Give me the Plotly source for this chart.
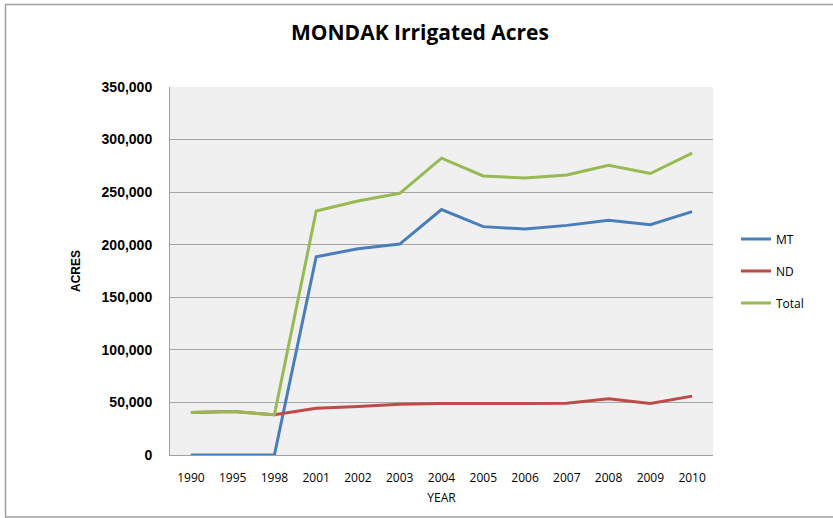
import plotly.graph_objects as go

years = ["1990", "1995", "1998", "2001", "2002", "2003", "2004", "2005", "2006", "2007", "2008", "2009", "2010"]
mt = [0, 0, 0, 188500, 196200, 200600, 233400, 217200, 214900, 218400, 223200, 219000, 231500]
nd = [40400, 41300, 38400, 44500, 46100, 48300, 48900, 48700, 48900, 49200, 53400, 48900, 56000]
total = [40400, 41300, 38400, 232000, 241600, 248900, 282300, 265400, 263500, 266400, 275600, 267700, 287100]

fig = go.Figure()
fig.add_trace(go.Scatter(x=years, y=mt, name="MT", mode="lines", line=dict(color="#4A7EBB", width=3),
                         legend="legend", showlegend=True))
fig.add_trace(go.Scatter(x=years, y=nd, name="ND", mode="lines", line=dict(color="#BE4B48", width=3),
                         legend="legend2", showlegend=True))
fig.add_trace(go.Scatter(x=years, y=total, name="Total", mode="lines", line=dict(color="#98B954", width=3),
                         legend="legend3", showlegend=True))

L, R, T, B = 170, 120, 87, 63
W, H = 833, 518
pw, ph = W - L - R, H - T - B

def px(x):
    return (x - L) / pw

def py(y):
    return (H - B - y) / ph

leg_common = dict(xanchor="left", yanchor="middle", font=dict(family="Open Sans", size=12, color="black"),
                  bgcolor="rgba(0,0,0,0)", itemwidth=30, visible=True)

fig.update_layout(
    width=W, height=H, showlegend=True,
    paper_bgcolor="white", plot_bgcolor="#F0F0F0",
    margin=dict(l=L, r=R, t=T, b=B),
    title=dict(text="<b>MONDAK Irrigated Acres</b>", xref="container", x=420 / W, xanchor="center",
               yref="container", y=1 - 33 / H, yanchor="middle",
               font=dict(family="Open Sans", size=21, color="black")),
    xaxis=dict(type="category", range=[-0.5, 12.5], showgrid=False, showline=True, linecolor="#A0A0A0",
               tickfont=dict(family="Open Sans", size=12, color="black"), ticks="", ticklabelstandoff=12,
               title=dict(text="YEAR", font=dict(family="Open Sans", size=12, color="black"), standoff=8)),
    yaxis=dict(range=[0, 350000], dtick=50000, tickformat=",d", showgrid=True, gridcolor="#A6A6A6", gridwidth=1,
               showline=True, linecolor="#A0A0A0", zeroline=False, ticks="", ticklabelstandoff=14,
               tickfont=dict(family="Arial", size=14, color="black", weight="bold"),
               title=dict(text="<b>ACRES</b>", font=dict(family="Arial", size=12, color="black"), standoff=18)),
    legend=dict(x=px(736), y=py(239), **leg_common),
    legend2=dict(x=px(736), y=py(271), **leg_common),
    legend3=dict(x=px(736), y=py(303), **leg_common),
    shapes=[dict(type="rect", xref="paper", yref="paper", x0=px(5.5), x1=px(840), y0=py(517), y1=py(4.5),
                 line=dict(color="#A0A0A0", width=1.5))],
)
fig.write_html("out.html", config={"displayModeBar": False},
               post_script="document.body.style.margin='0';document.body.style.overflow='hidden';")
